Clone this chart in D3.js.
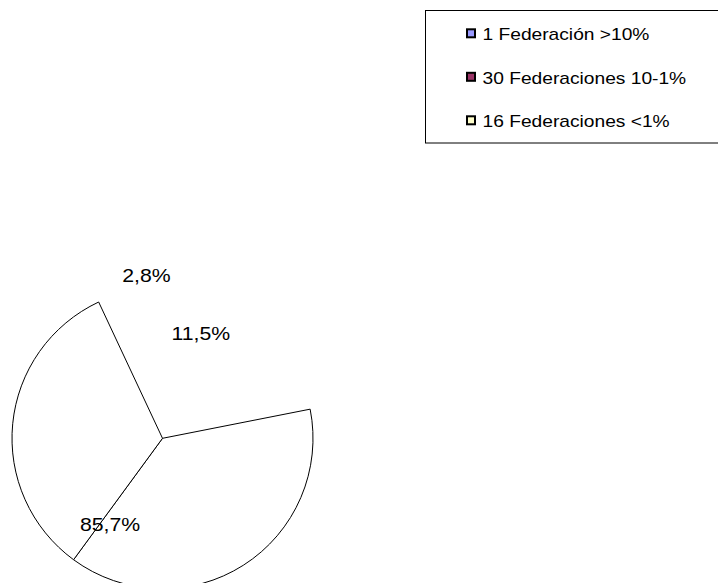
<!DOCTYPE html>
<html>
<head>
<meta charset="utf-8">
<script src="https://cdn.jsdelivr.net/npm/d3@7"></script>
<style>
  html, body { margin: 0; padding: 0; background: #fff; }
  svg { display: block; }
  text { font-family: Arial, "Liberation Sans", sans-serif; fill: #000; }
</style>
</head>
<body>
<svg id="chart" width="718" height="583"></svg>
<script>
// ---- data ----
const categories = ["1 Federación >10%", "30 Federaciones 10-1%", "16 Federaciones <1%"];
const seriesColors = ["#9999FF", "#993366", "#FFFFCC"];
const percentValues = [2.8, 11.5, 85.7];
// wedge outlines as they appear in the picture (share of the full circle, %)
const wedgeShares = [28.9, 38.2, 33.0];
const wedgeDrawn = [false, true, true];

// ---- layout ----
const W = 718, H = 583;
const cx = 162.5, cy = 438.3, R = 150.5;
const startDeg = -25.1;
const labelOffsets = [[-16, -156.6], [38.3, -98.3], [-52.5, 92.7]]; // from pie centre, text baseline
const svg = d3.select("#chart");

const pie = d3.pie().sort(null).value(d => d)
  .startAngle(startDeg * Math.PI / 180)
  .endAngle(startDeg * Math.PI / 180 + 2 * Math.PI);
const arc = d3.arc().innerRadius(0).outerRadius(R);

const g = svg.append("g").attr("transform", `translate(${cx},${cy})`);
g.selectAll("path.wedge")
  .data(pie(wedgeShares).filter((d, i) => wedgeDrawn[i]))
  .join("path")
  .attr("class", "wedge")
  .attr("d", arc)
  .attr("fill", "#fff")
  .attr("stroke", "#000")
  .attr("stroke-width", 1);

const fmt = v => d3.format(".1f")(v).replace(".", ",") + "%";
g.selectAll("g.lbl")
  .data(percentValues)
  .join("g")
  .attr("class", "lbl")
  .attr("transform", (d, i) => `translate(${labelOffsets[i][0]},${labelOffsets[i][1]}) scale(1.2,1)`)
  .append("text")
  .attr("text-anchor", "middle")
  .style("font-size", "17.7px")
  .text(d => fmt(d));

// ---- legend ----
const legX = 425.5, legY = 10.5, legH = 132.5;
svg.append("rect")
  .attr("x", legX).attr("y", legY)
  .attr("width", W - legX + 5).attr("height", legH)
  .attr("fill", "#fff").attr("stroke", "#000").attr("stroke-width", 1);

const rowY = d3.scalePoint().domain(categories).range([40, 127]);
const items = svg.selectAll("g.leg")
  .data(categories)
  .join("g")
  .attr("class", "leg");
items.append("rect")
  .attr("x", 467)
  .attr("y", d => rowY(d) - 10.7)
  .attr("width", 8)
  .attr("height", 8)
  .attr("fill", (d, i) => seriesColors[i])
  .attr("stroke", "#000")
  .attr("stroke-width", 2);
items.append("g")
  .attr("transform", d => `translate(482.5,${rowY(d)}) scale(1.2,1)`)
  .append("text")
  .style("font-size", "16px")
  .text(d => d);
</script>
</body>
</html>
